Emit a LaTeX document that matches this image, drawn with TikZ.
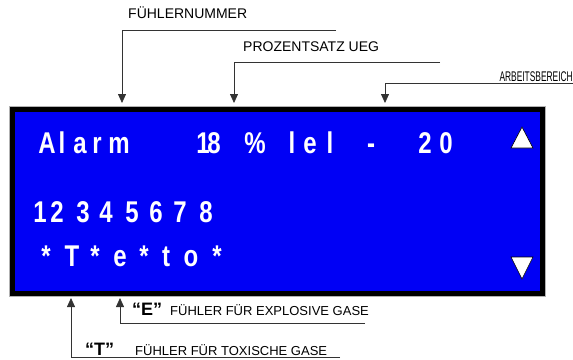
\documentclass[tikz,border=0pt]{standalone}
\usepackage{fontspec}
\setmainfont{Liberation Sans}
\usetikzlibrary{positioning, arrows.meta}
\definecolor{lcdblue}{RGB}{0,0,245}
\newcommand{\lcdnarrow}[1]{\scalebox{0.8}[1]{#1}}

\begin{document}
\begin{tikzpicture}[x=1pt,y=-1pt,>={Triangle[width=8pt,length=9pt]},
    lcdchar/.style={text=white, font=\fontsize{30}{30}\selectfont\bfseries, anchor=base, inner sep=0pt},
    tag/.style={font=\fontsize{14}{14}\selectfont, anchor=base west, inner sep=0pt},
    smalltag/.style={font=\fontsize{13}{13}\selectfont, anchor=base west, inner sep=0pt},
    quotetag/.style={font=\fontsize{18}{18}\selectfont\bfseries, anchor=base west, inner sep=0pt},
    pointer/.style={draw=black!80, line width=0.8pt}]
    \useasboundingbox (0,0) rectangle (573,359);

    % Display
    \node (lcd) [draw=black, line width=5pt, fill=lcdblue, minimum width=530pt, minimum height=183.5pt,
        anchor=north west, inner sep=0pt, outer sep=0pt] at (12.5,109.5) {};
    \draw[black!30, line width=0.6pt] ([shift={(-3,-3)}]lcd.north west) rectangle ([shift={(3,3)}]lcd.south east);
    \draw[fill=white, line width=0.6pt] (511,148) -- (533,148) -- (522,127) -- cycle;
    \draw[fill=white, line width=0.6pt] (511,257) -- (533,257) -- (522,279) -- cycle;

    % Display text
    \foreach \ch/\cx [count=\i] in {A/47,l/62,a/80,r/97,m/119,1/203,8/214,\%/255,l/292,e/310,l/330,-/371,2/425,0/446}
        \node (rowa\i) [lcdchar] at (\cx,153) {\lcdnarrow{\ch}};
    \foreach \ch/\cx [count=\i] in {1/40,2/57,3/83,4/106,5/132,6/156,7/180,8/206}
        \node (rowb\i) [lcdchar] at (\cx,222) {\lcdnarrow{\ch}};
    \foreach \ch/\cx [count=\i] in {*/46,T/72,*/95,e/120,*/144,t/166,o/191,*/217}
        \node (rowc\i) [lcdchar] at (\cx,266) {\lcdnarrow{\ch}};

    % Labels
    \node (fn) [tag] at (128,18) {FÜHLERNUMMER};
    \node (pz) [tag] at (243,51) {PROZENTSATZ UEG};
    \node (ab) [tag, anchor=base east] at (573,81) {\scalebox{0.6}[1]{ARBEITSBEREICH}};
    \node (eq) [quotetag] at (132,315) {“E”};
    \node (ex) [smalltag] at (170,315) {FÜHLER FÜR EXPLOSIVE GASE};
    \node (tq) [quotetag] at (85,355) {“T”};
    \node (tx) [smalltag] at (135,355) {FÜHLER FÜR TOXISCHE GASE};

    % Arrows
    \coordinate (fnend) at (336,30);  \coordinate (fntip) at (122,103);
    \coordinate (pzend) at (440,62);  \coordinate (pztip) at (234,103);
    \coordinate (abend) at (573,83);  \coordinate (abtip) at (385,103);
    \coordinate (exend) at (365,323); \coordinate (extip) at (120,298);
    \coordinate (txend) at (340,357); \coordinate (txtip) at (71,298);
    \draw[pointer, ->] (fnend) -| (fntip);
    \draw[pointer, ->] (pzend) -| (pztip);
    \draw[pointer, ->] (abend) -| (abtip);
    \draw[pointer, ->] (exend) -| (extip);
    \draw[pointer, ->] (txend) -| (txtip);
\end{tikzpicture}
\end{document}
